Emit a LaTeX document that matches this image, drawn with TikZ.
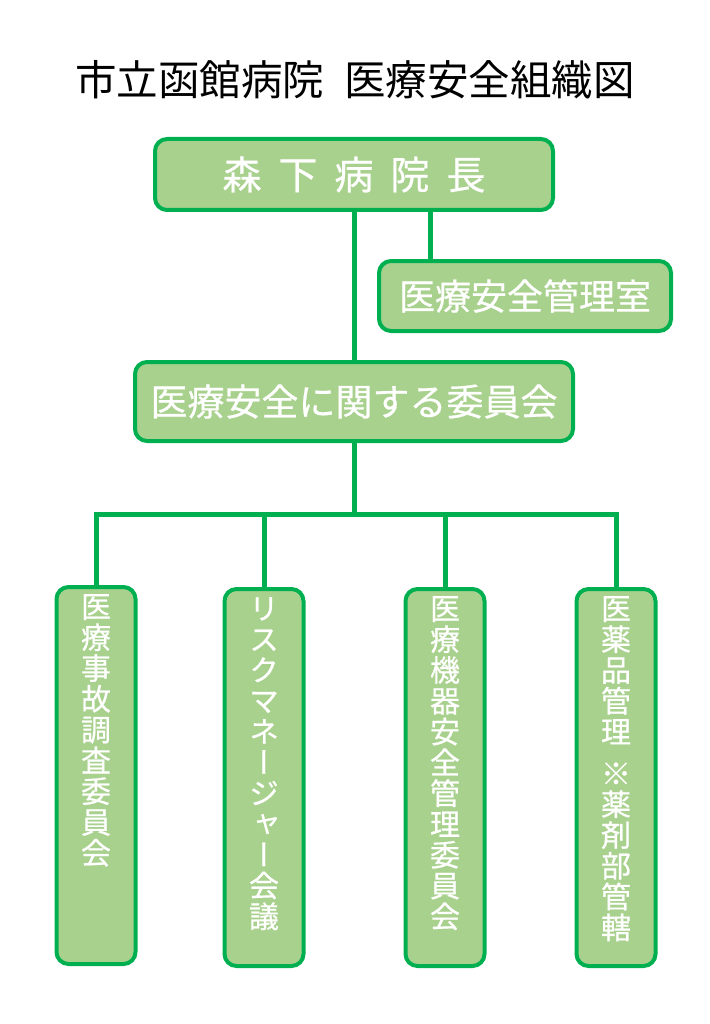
\documentclass[tikz,border=0pt]{standalone}
\usepackage{fontspec}
\newfontfamily\jp{Noto Sans CJK JP}
\newfontfamily\jpbox[FakeBold=0.6]{Noto Sans CJK JP}
\newfontfamily\jptate[RawFeature=+vert, FakeBold=0.6]{Noto Sans CJK JP}
\usetikzlibrary{positioning,calc}

\definecolor{boxline}{HTML}{00B050}
\definecolor{boxfill}{HTML}{A9D18E}

\tikzset{
  box/.style={draw=boxline, fill=boxfill, line width=4pt, rounded corners=12pt, inner sep=0pt, text=white},
  wire/.style={draw=boxline, line width=5pt},
  tate/.style={text=white, align=center, inner sep=0pt, anchor=north,
    font=\jptate\fontsize{30}{30.8}\selectfont},
}

\begin{document}
\begin{tikzpicture}[x=1pt, y=-1pt]
  \useasboundingbox (0,0) rectangle (709,1024);

  \node[font=\jp\fontsize{41.5}{41.5}\selectfont] (title) at (355,80) {市立函館病院\hspace{20pt}医療安全組織図};

  %% upper part
  \node[box, minimum width=398pt, minimum height=71pt, font=\jpbox\fontsize{39}{39}\selectfont] (chief) at (354,174.5)
    {森\hspace{17pt}下\hspace{17pt}病\hspace{17pt}院\hspace{17pt}長};
  \node[box, minimum width=292pt, minimum height=70pt, font=\jpbox\fontsize{36}{36}\selectfont] (office) at (525,296) {医療安全管理室};
  \node[box, minimum width=438pt, minimum height=79pt, font=\jpbox\fontsize{37}{37}\selectfont] (committee) at (354,401.5) {医療安全に関する委員会};

  %% lower boxes, text is written top to bottom
  \foreach \n/\x/\y in {1/96/775.5, 2/264/777.5, 3/445/777.5, 4/616/777.5}
    \node[box, minimum width=79pt, minimum height=377pt] (b\n) at (\x,\y) {};

  \node[tate] (t1) at ([yshift=-9pt]b1.north) {医\\療\\事\\故\\調\\査\\委\\員\\会};
  \node[tate] (t2) at ([yshift=-10pt]b2.north) {リ\\ス\\ク\\マ\\ネ\\ー\\ジ\\ャ\\ー\\会\\議};
  \node[tate] (t3) at ([yshift=-9pt]b3.north) {医\\療\\機\\器\\安\\全\\管\\理\\委\\員\\会};
  \node[tate] (t4) at ([yshift=-9pt]b4.north) {医\\薬\\品\\管\\理\\[11pt]※\\薬\\剤\\部\\管\\轄};

  %% connectors
  \coordinate (tap) at ([xshift=76pt]chief.south);
  \coordinate (bus) at ([yshift=-71pt]committee.south);
  \draw[wire] (chief.south) -- (committee.north);
  \draw[wire] (tap) -- (tap |- office.north);
  \draw[wire] (committee.south) -- (bus);
  \draw[wire] (b1.north) |- (bus) -| (b4.north);
  \foreach \n in {2,3}
    \draw[wire] (b\n.north) -- (b\n.north |- bus);
\end{tikzpicture}
\end{document}
